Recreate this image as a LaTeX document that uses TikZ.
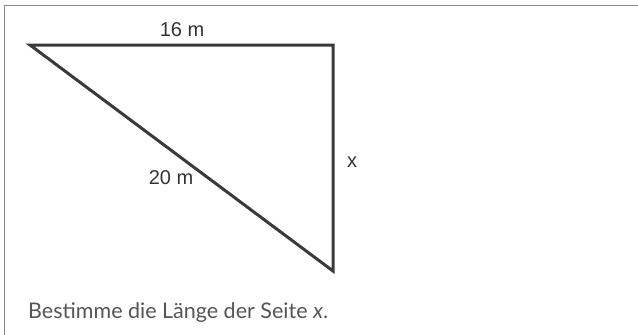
\documentclass[tikz,border=0pt]{standalone}
\usepackage{fontspec}
\setmainfont{Liberation Sans}
\newfontfamily\qfont{Lato}
\definecolor{linec}{HTML}{3A3A3A}
\definecolor{labc}{HTML}{333333}
\definecolor{txtc}{HTML}{555555}
\definecolor{framec}{HTML}{8A8A8A}
\begin{document}
\begin{tikzpicture}[x=1pt,y=-1pt,
  side/.style={draw=linec,line width=3pt,line join=miter},
  lab/.style={text=labc,font=\fontsize{20}{24}\selectfont,inner sep=0pt,anchor=base}]
\useasboundingbox (0,0) rectangle (638,335);
\begin{scope}
\clip (0,0) rectangle (638,335);
\draw[framec,line width=1.2pt] (4.5,5.5) rectangle (660,360);
\end{scope}
\coordinate (A) at (30,45);
\coordinate (B) at (333,45);
\coordinate (C) at (333,271);
\draw[side] (A) -- (B) -- (C) -- cycle;
\node[lab] (l16) at (182,36) {16 m};
\node[lab] (lx) at (352,167) {x};
\node[lab] (l20) at (171,184) {20 m};
\node[anchor=base west,inner sep=0pt,text=txtc,font=\qfont\fontsize{21.5}{25}\selectfont] (q) at (28,318) {Bestimme die Länge der Seite \textit{x}.};
\end{tikzpicture}
\end{document}
